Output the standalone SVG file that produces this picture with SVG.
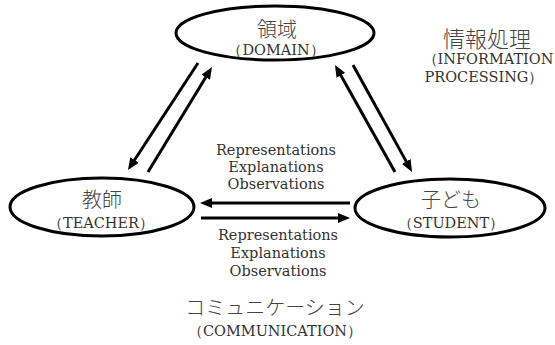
<svg xmlns="http://www.w3.org/2000/svg" width="555" height="345" viewBox="0 0 555 345">
<style>
.node{fill:#fff;stroke:#000;stroke-width:3}
.jp{font-family:"Noto Sans CJK JP","Noto Sans",sans-serif;font-weight:300;fill:#444;text-anchor:middle}
.en{font-family:"DejaVu Serif","Liberation Serif",serif;font-size:14.5px;fill:#333;text-anchor:middle}
.lbl{font-family:"DejaVu Serif","Liberation Serif",serif;font-size:14.5px;fill:#333;text-anchor:middle}
.arr{stroke:#000;stroke-width:3;fill:none;marker-end:url(#ah)}
</style>
<defs>
<marker id="ah" viewBox="0 0 12 10" refX="3" refY="5" markerWidth="12" markerHeight="10" markerUnits="userSpaceOnUse" orient="auto">
<path d="M0,0 L12,5 L0,10 z" fill="#000"/>
</marker>
</defs>
<rect width="555" height="345" fill="#fff"/>
<g id="connectors">
<line class="arr" x1="198" y1="63" x2="132.9" y2="162.5"/>
<line class="arr" x1="148" y1="172" x2="207.3" y2="74.7"/>
<line class="arr" x1="395" y1="172" x2="339.4" y2="72.8"/>
<line class="arr" x1="353" y1="65" x2="407.7" y2="164.1"/>
<line class="arr" x1="350" y1="203" x2="209" y2="203"/>
<line class="arr" x1="201" y1="218" x2="341" y2="218"/>
</g>
<g id="domain">
<ellipse class="node" cx="275" cy="33" rx="99" ry="27"/>
<text class="jp" x="277" y="37" font-size="20">領域</text>
<text class="en" x="276" y="55">（DOMAIN）</text>
</g>
<g id="teacher">
<ellipse class="node" cx="102" cy="207" rx="92" ry="29"/>
<text class="jp" x="102" y="207" font-size="20">教師</text>
<text class="en" x="101" y="228">（TEACHER）</text>
</g>
<g id="student">
<ellipse class="node" cx="450" cy="208" rx="95" ry="29"/>
<text class="jp" x="451" y="207" font-size="20">子ども</text>
<text class="en" x="451" y="228">（STUDENT）</text>
</g>
<g id="info">
<text class="jp" x="487" y="47" font-size="22">情報処理</text>
<text class="en" x="488" y="64">（INFORMATION</text>
<text class="en" x="484" y="82">PROCESSING）</text>
</g>
<g id="labels-top">
<text class="lbl" x="276" y="155">Representations</text>
<text class="lbl" x="276" y="172">Explanations</text>
<text class="lbl" x="276" y="189">Observations</text>
</g>
<g id="labels-bottom">
<text class="lbl" x="278" y="240">Representations</text>
<text class="lbl" x="278" y="258">Explanations</text>
<text class="lbl" x="278" y="276">Observations</text>
</g>
<g id="communication">
<text class="jp" x="275" y="315" font-size="20">コミュニケーション</text>
<text class="en" x="275" y="336">（COMMUNICATION）</text>
</g>
</svg>
